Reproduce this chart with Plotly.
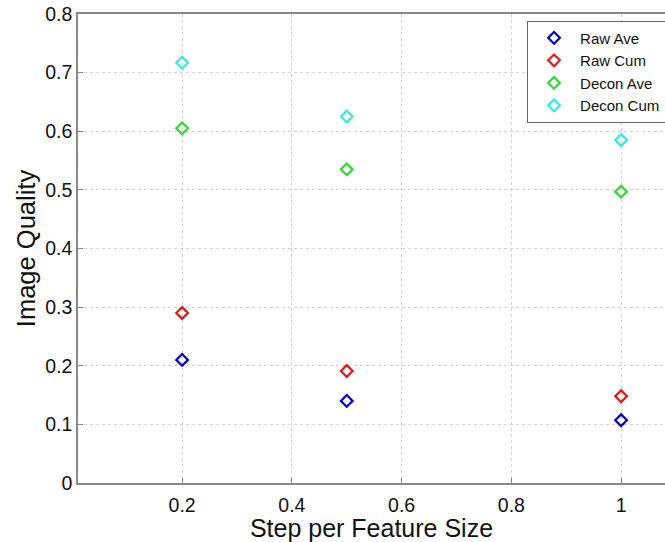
import plotly.graph_objects as go

steps = [0.2, 0.5, 1.0]
series_names = ["Raw Ave", "Raw Cum", "Decon Ave", "Decon Cum"]
raw_ave = [0.210, 0.140, 0.107]
raw_cum = [0.290, 0.191, 0.148]
decon_ave = [0.605, 0.535, 0.497]
decon_cum = [0.717, 0.625, 0.585]
x_ticks = [0.2, 0.4, 0.6, 0.8, 1.0]
x_tick_labels = ["0.2", "0.4", "0.6", "0.8", "1"]
y_ticks = [0, 0.1, 0.2, 0.3, 0.4, 0.5, 0.6, 0.7, 0.8]
y_tick_labels = ["0", "0.1", "0.2", "0.3", "0.4", "0.5", "0.6", "0.7", "0.8"]

colors = ["#0000cc", "#e01818", "#30d830", "#30eaea"]
values = [raw_ave, raw_cum, decon_ave, decon_cum]

fig = go.Figure()
for name, vals, c in zip(series_names, values, colors):
    fig.add_trace(go.Scatter(
        x=steps, y=vals, mode="markers", name=name,
        marker=dict(symbol="diamond-open", size=9, color=c, line=dict(width=2.2, color=c)),
    ))

font = "Liberation Sans, Arial, sans-serif"
fig.update_layout(
    width=665, height=542,
    margin=dict(l=78, r=0, t=14, b=59, autoexpand=False),
    paper_bgcolor="white", plot_bgcolor="white",
    font=dict(family=font, color="#111111"),
    xaxis=dict(range=[0.0102, 1.08], tickvals=x_ticks, ticktext=x_tick_labels,
               showgrid=True, gridcolor="#d4d4d4", griddash="dot", gridwidth=1,
               showline=True, linecolor="#888888", linewidth=1.5, mirror=True,
               ticks="inside", ticklen=5, tickcolor="#888888",
               tickfont=dict(size=19.5), zeroline=False, automargin=False,
               ticklabelstandoff=4,
               title=dict(text="Step per Feature Size", font=dict(size=25), standoff=2)),
    yaxis=dict(range=[0, 0.8], tickvals=y_ticks, ticktext=y_tick_labels,
               showgrid=True, gridcolor="#d4d4d4", griddash="dot", gridwidth=1,
               showline=True, linecolor="#888888", linewidth=1.5, mirror=True,
               ticks="inside", ticklen=5, tickcolor="#888888",
               tickfont=dict(size=19.5), zeroline=False, automargin=False,
               title=dict(text="Image Quality", font=dict(size=25.5), standoff=2)),
    legend=dict(x=0.765, y=0.986, xanchor="left", yanchor="top",
                bgcolor="white", bordercolor="#666666", borderwidth=1,
                font=dict(size=15, family=font), tracegroupgap=0, itemwidth=42),
    showlegend=True,
)
fig.write_html("out.html", config={"displayModeBar": False},
               post_script="document.body.style.margin='0';document.body.style.padding='0';")
